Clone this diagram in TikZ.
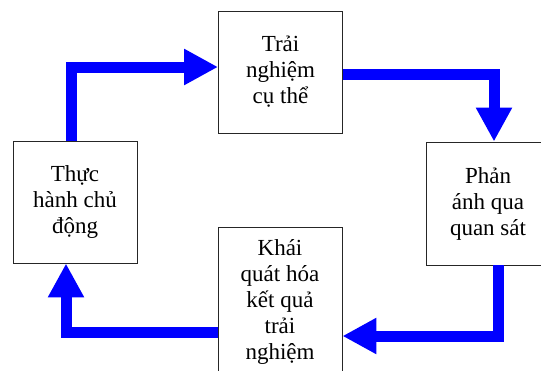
\documentclass[tikz,border=0pt]{standalone}
\usepackage{fontspec}
\setmainfont{Liberation Serif}
\usetikzlibrary{arrows.meta}

\begin{document}
\begin{tikzpicture}[x=1pt,y=-1pt,font=\fontsize{23}{26}\selectfont,
  box/.style={draw=black!85,line width=0.9pt,fill=white,align=center,inner sep=0pt,minimum width=124pt},
  flow/.style={blue,line width=11pt,line join=miter,-{Triangle[width=34pt,length=34pt]}}]
\useasboundingbox (0,0) rectangle (541,370);
\node[box,minimum height=122pt] (trai) at (280.5,72){Trải\\nghiệm\\cụ thể};
\node[box,minimum height=122pt] (thuc) at (75,202){Thực\\hành chủ\\động};
\node[box,minimum height=123pt] (phan) at (488,203.5){Phản\\ánh qua\\quan sát};
\node[box,minimum height=150pt] (khai) at (280,302){Khái\\quát hóa\\kết quả\\trải\\nghiệm};
\draw[flow] ([xshift=-3.5pt]thuc.north) |- ([yshift=5pt]trai.west);
\draw[flow] ([yshift=-2pt]trai.east) -| ([xshift=6pt]phan.north);
\draw[flow] ([xshift=10pt]phan.south) |- ([yshift=-34pt]khai.east);
\draw[flow] ([yshift=-30.5pt]khai.west) -| ([xshift=-9pt]thuc.south);
\end{tikzpicture}
\end{document}
